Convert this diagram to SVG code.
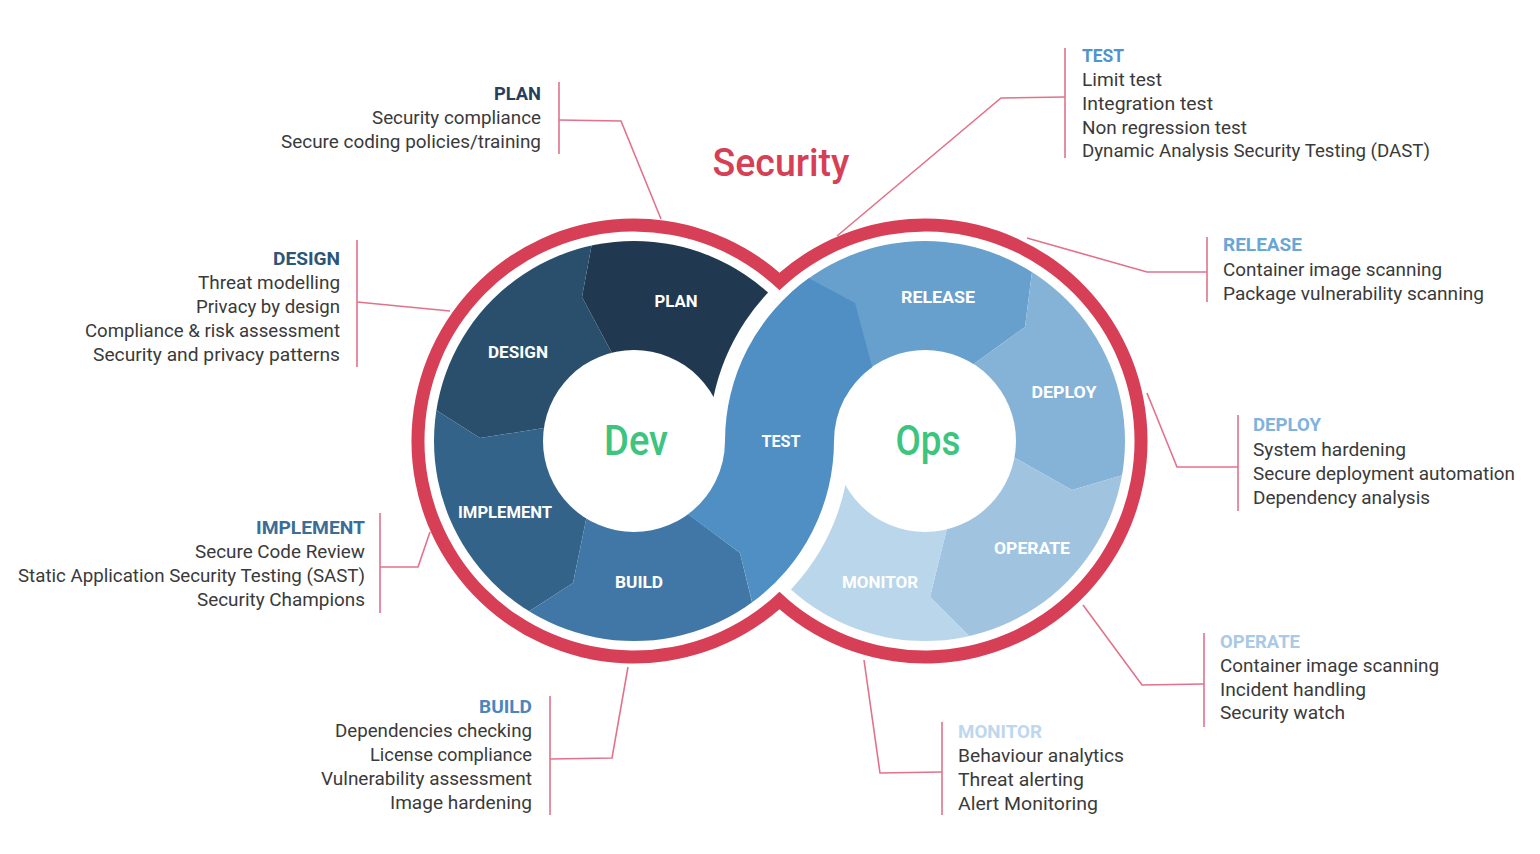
<svg xmlns="http://www.w3.org/2000/svg" width="1540" height="854" viewBox="0 0 1540 854">
<style>
.h{font-family:Roboto,"Liberation Sans",sans-serif;font-size:19px;font-weight:700}
.t{font-family:Roboto,"Liberation Sans",sans-serif;font-size:19px;fill:#3a3a3a}
.seg{font-family:Roboto,"Liberation Sans",sans-serif;font-size:16px;font-weight:700;fill:#fff;text-anchor:middle}
.big{font-family:Roboto,"Liberation Sans",sans-serif;font-weight:500;text-anchor:middle}
.e{text-anchor:end}
.conn{fill:none;stroke:#e2728a;stroke-width:1.6}
</style>
<defs>
<mask id="mDev" maskUnits="userSpaceOnUse" x="0" y="0" width="1540" height="854">
<circle cx="634" cy="441" r="200" fill="#fff"/>
<circle cx="634" cy="441" r="91" fill="#000"/>
<circle cx="925" cy="441" r="216" fill="#000"/>
</mask>
<mask id="mOps" maskUnits="userSpaceOnUse" x="0" y="0" width="1540" height="854">
<circle cx="925" cy="441" r="200" fill="#fff"/>
<circle cx="925" cy="441" r="91" fill="#000"/>
<circle cx="634" cy="441" r="216" fill="#000"/>
</mask>
</defs>
<rect width="1540" height="854" fill="#fff"/>

<g id="connectors">
<polyline class="conn" points="559,82 559,154"/>
<polyline class="conn" points="559,120 621,121 661,219"/>
<polyline class="conn" points="357,240 357,367"/>
<polyline class="conn" points="357,302 450,311"/>
<polyline class="conn" points="380,513 380,613"/>
<polyline class="conn" points="380,567 418,567 430,532"/>
<polyline class="conn" points="550,696 550,815"/>
<polyline class="conn" points="550,759 612,758 628,667"/>
<polyline class="conn" points="1065,48 1065,158"/>
<polyline class="conn" points="1065,97 1001,98 837,236"/>
<polyline class="conn" points="1207,237 1207,302"/>
<polyline class="conn" points="1207,272 1147,272 1027,238"/>
<polyline class="conn" points="1238,415 1238,511"/>
<polyline class="conn" points="1238,467 1177,467 1147,393"/>
<polyline class="conn" points="1204,633 1204,727"/>
<polyline class="conn" points="1204,684 1142,685 1083,605"/>
<polyline class="conn" points="942,722 942,815"/>
<polyline class="conn" points="942,772 880,773 864,660"/>
</g>

<g id="ops-segments" mask="url(#mOps)">
<polygon id="seg-release" fill="#68a0cd" points="925,441 700,441 700,200 1040,200 1035,255 1032,272 1025,327 975,363"/>
<polygon id="seg-deploy" fill="#85b3d7" points="925,441 975,363 1025,327 1032,272 1035,255 1200,250 1200,480 1123,475 1072,490 1015,458"/>
<polygon id="seg-operate" fill="#a0c4e0" points="925,441 1015,458 1072,490 1123,475 1200,480 1200,700 975,700 970,637 930,597 947,528"/>
<polygon id="seg-monitor" fill="#b9d6ea" points="925,441 947,528 930,597 970,637 975,700 700,700 700,441"/>
</g>

<g id="dev-segments" mask="url(#mDev)">
<polygon id="seg-plan" fill="#213950" points="634,441 613,355 582,297 592,243 594,200 700,180 860,250 860,441"/>
<polygon id="seg-design" fill="#2a4f6d" points="634,441 544,428 480,438 436,410 400,390 380,200 594,200 592,243 582,297 613,355"/>
<polygon id="seg-implement" fill="#336389" points="634,441 544,428 480,438 436,410 400,390 400,650 515,630 528,612 573,583 586,520"/>
<polygon id="seg-build" fill="#4177a6" points="634,441 586,520 573,583 528,612 515,630 520,680 760,680 757,625 752,602 740,553 688,514"/>
</g>

<g id="seg-test">
<path fill="#4f8fc4" d="M808.8 278.3 A200 200 0 0 0 725 441 A91 91 0 0 1 688 514.2 L740 553 L752.2 602.3 A200 200 0 0 0 834 441 A91 91 0 0 1 872.2 366.9 L855 303 Z"/>
</g>

<g id="security-ring">
<path fill="#d63f55" fill-rule="evenodd" d="M779.5 272.7 A222.5 222.5 0 1 0 779.5 609.3 A222.5 222.5 0 1 0 779.5 272.7 Z M779.5 290.3 A209.5 209.5 0 1 0 779.5 591.7 A209.5 209.5 0 1 0 779.5 290.3 Z"/>
</g>

<g id="segment-labels">
<text class="seg" x="676" y="307" textLength="43" lengthAdjust="spacingAndGlyphs">PLAN</text>
<text class="seg" x="518" y="358" textLength="60" lengthAdjust="spacingAndGlyphs">DESIGN</text>
<text class="seg" x="505" y="518" textLength="94" lengthAdjust="spacingAndGlyphs">IMPLEMENT</text>
<text class="seg" x="639" y="588" textLength="48" lengthAdjust="spacingAndGlyphs">BUILD</text>
<text class="seg" x="781" y="447" textLength="39" lengthAdjust="spacingAndGlyphs">TEST</text>
<text class="seg" x="938" y="303" textLength="74" lengthAdjust="spacingAndGlyphs">RELEASE</text>
<text class="seg" x="1064" y="398" textLength="65" lengthAdjust="spacingAndGlyphs">DEPLOY</text>
<text class="seg" x="1032" y="554" textLength="76" lengthAdjust="spacingAndGlyphs">OPERATE</text>
<text class="seg" x="880" y="588" textLength="76" lengthAdjust="spacingAndGlyphs">MONITOR</text>
</g>

<g id="titles">
<text class="big" x="781" y="176" font-size="39" fill="#d63f55" textLength="137" lengthAdjust="spacingAndGlyphs">Security</text>
<text class="big" x="636" y="455" font-size="42" fill="#3dc47e" textLength="64" lengthAdjust="spacingAndGlyphs">Dev</text>
<text class="big" x="928" y="455" font-size="42" fill="#3dc47e" textLength="65" lengthAdjust="spacingAndGlyphs">Ops</text>
</g>

<g id="node-plan">
<text class="h e" x="541" y="100" fill="#24405a" textLength="47" lengthAdjust="spacingAndGlyphs">PLAN</text>
<text class="t e" x="541" y="124" textLength="169" lengthAdjust="spacingAndGlyphs">Security compliance</text>
<text class="t e" x="541" y="148" textLength="260" lengthAdjust="spacingAndGlyphs">Secure coding policies/training</text>
</g>
<g id="node-design">
<text class="h e" x="340" y="265" fill="#2d5576" textLength="67" lengthAdjust="spacingAndGlyphs">DESIGN</text>
<text class="t e" x="340" y="289" textLength="142" lengthAdjust="spacingAndGlyphs">Threat modelling</text>
<text class="t e" x="340" y="313" textLength="144" lengthAdjust="spacingAndGlyphs">Privacy by design</text>
<text class="t e" x="340" y="337" textLength="255" lengthAdjust="spacingAndGlyphs">Compliance &amp; risk assessment</text>
<text class="t e" x="340" y="361" textLength="247" lengthAdjust="spacingAndGlyphs">Security and privacy patterns</text>
</g>
<g id="node-implement">
<text class="h e" x="365" y="534" fill="#3b6d98" textLength="109" lengthAdjust="spacingAndGlyphs">IMPLEMENT</text>
<text class="t e" x="365" y="558" textLength="170" lengthAdjust="spacingAndGlyphs">Secure Code Review</text>
<text class="t e" x="365" y="582" textLength="347" lengthAdjust="spacingAndGlyphs">Static Application Security Testing (SAST)</text>
<text class="t e" x="365" y="606" textLength="168" lengthAdjust="spacingAndGlyphs">Security Champions</text>
</g>
<g id="node-build">
<text class="h e" x="532" y="713" fill="#4a86bd" textLength="53" lengthAdjust="spacingAndGlyphs">BUILD</text>
<text class="t e" x="532" y="737" textLength="197" lengthAdjust="spacingAndGlyphs">Dependencies checking</text>
<text class="t e" x="532" y="761" textLength="162" lengthAdjust="spacingAndGlyphs">License compliance</text>
<text class="t e" x="532" y="785" textLength="211" lengthAdjust="spacingAndGlyphs">Vulnerability assessment</text>
<text class="t e" x="532" y="809" textLength="142" lengthAdjust="spacingAndGlyphs">Image hardening</text>
</g>
<g id="node-test">
<text class="h" x="1082" y="62" fill="#4f93cf" textLength="42" lengthAdjust="spacingAndGlyphs">TEST</text>
<text class="t" x="1082" y="86" textLength="80" lengthAdjust="spacingAndGlyphs">Limit test</text>
<text class="t" x="1082" y="110" textLength="131" lengthAdjust="spacingAndGlyphs">Integration test</text>
<text class="t" x="1082" y="134" textLength="165" lengthAdjust="spacingAndGlyphs">Non regression test</text>
<text class="t" x="1082" y="157" textLength="348" lengthAdjust="spacingAndGlyphs">Dynamic Analysis Security Testing (DAST)</text>
</g>
<g id="node-release">
<text class="h" x="1223" y="251" fill="#6aa6d6" textLength="79" lengthAdjust="spacingAndGlyphs">RELEASE</text>
<text class="t" x="1223" y="276" textLength="219" lengthAdjust="spacingAndGlyphs">Container image scanning</text>
<text class="t" x="1223" y="300" textLength="261" lengthAdjust="spacingAndGlyphs">Package vulnerability scanning</text>
</g>
<g id="node-deploy">
<text class="h" x="1253" y="431" fill="#7fb3de" textLength="68" lengthAdjust="spacingAndGlyphs">DEPLOY</text>
<text class="t" x="1253" y="456" textLength="153" lengthAdjust="spacingAndGlyphs">System hardening</text>
<text class="t" x="1253" y="480" textLength="262" lengthAdjust="spacingAndGlyphs">Secure deployment automation</text>
<text class="t" x="1253" y="504" textLength="177" lengthAdjust="spacingAndGlyphs">Dependency analysis</text>
</g>
<g id="node-operate">
<text class="h" x="1220" y="648" fill="#a9c9e6" textLength="80" lengthAdjust="spacingAndGlyphs">OPERATE</text>
<text class="t" x="1220" y="672" textLength="219" lengthAdjust="spacingAndGlyphs">Container image scanning</text>
<text class="t" x="1220" y="696" textLength="146" lengthAdjust="spacingAndGlyphs">Incident handling</text>
<text class="t" x="1220" y="719" textLength="125" lengthAdjust="spacingAndGlyphs">Security watch</text>
</g>
<g id="node-monitor">
<text class="h" x="958" y="738" fill="#bdd7ee" textLength="84" lengthAdjust="spacingAndGlyphs">MONITOR</text>
<text class="t" x="958" y="762" textLength="166" lengthAdjust="spacingAndGlyphs">Behaviour analytics</text>
<text class="t" x="958" y="786" textLength="126" lengthAdjust="spacingAndGlyphs">Threat alerting</text>
<text class="t" x="958" y="810" textLength="140" lengthAdjust="spacingAndGlyphs">Alert Monitoring</text>
</g>
</svg>
